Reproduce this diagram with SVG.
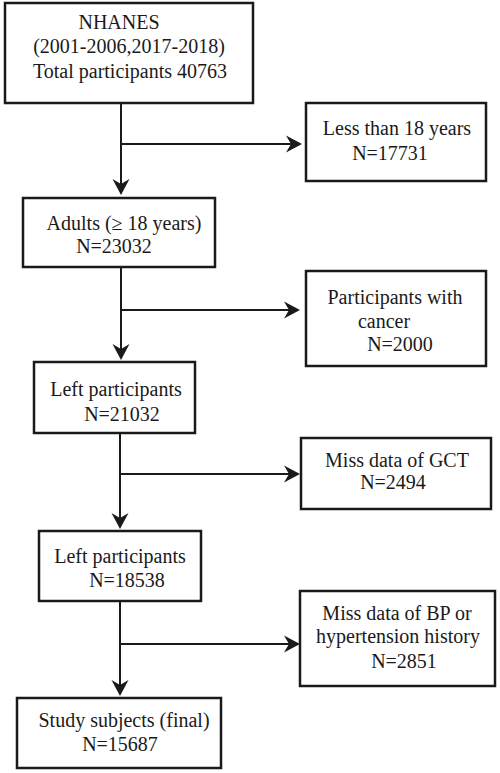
<svg xmlns="http://www.w3.org/2000/svg" width="500" height="773" viewBox="0 0 500 773">
<style>
.box{fill:#fff;stroke:#1a1a1a;stroke-width:2.5}
.t{font-family:'Liberation Serif','Times New Roman','DejaVu Serif',serif;font-size:20px;fill:#1a1a1a;text-anchor:middle}
.c{fill:none;stroke:#1a1a1a;stroke-width:2}
</style>
<defs>
<marker id="ah" markerUnits="userSpaceOnUse" viewBox="-12 -9 18 18" markerWidth="18" markerHeight="18" refX="0" refY="0" orient="auto">
<path d="M5,0 L-11,-8.5 L-6,0 L-11,8.5 Z" fill="#1a1a1a"/>
</marker>
</defs>
<rect width="500" height="773" fill="#fff"/>
<g id="connectors">
<path class="c" d="M121,103 V190" marker-end="url(#ah)"/>
<path class="c" d="M121,144 H297" marker-end="url(#ah)"/>
<path class="c" d="M121,267 V355" marker-end="url(#ah)"/>
<path class="c" d="M121,310 H295" marker-end="url(#ah)"/>
<path class="c" d="M120,433 V524" marker-end="url(#ah)"/>
<path class="c" d="M120,474 H295" marker-end="url(#ah)"/>
<path class="c" d="M120,601 V691" marker-end="url(#ah)"/>
<path class="c" d="M120,644 H295" marker-end="url(#ah)"/>
</g>
<g id="n1">
<rect class="box" x="5" y="3" width="248" height="100"/>
<text class="t" x="119" y="29">NHANES</text>
<text class="t" x="129" y="53">(2001-2006,2017-2018)</text>
<text class="t" x="130" y="78">Total participants 40763</text>
</g>
<g id="n2">
<rect class="box" x="306" y="103" width="180" height="78"/>
<text class="t" x="397" y="135">Less than 18 years</text>
<text class="t" x="390" y="160">N=17731</text>
</g>
<g id="n3">
<rect class="box" x="23" y="198" width="192" height="69"/>
<text class="t" x="124" y="230">Adults (≥ 18 years)</text>
<text class="t" x="114" y="253">N=23032</text>
</g>
<g id="n4">
<rect class="box" x="306" y="271" width="180" height="95"/>
<text class="t" x="395" y="304">Participants with</text>
<text class="t" x="384" y="328">cancer</text>
<text class="t" x="400" y="351">N=2000</text>
</g>
<g id="n5">
<rect class="box" x="34" y="362" width="161" height="71"/>
<text class="t" x="116" y="396">Left participants</text>
<text class="t" x="122" y="421">N=21032</text>
</g>
<g id="n6">
<rect class="box" x="301" y="438" width="190" height="71"/>
<text class="t" x="397" y="467">Miss data of GCT</text>
<text class="t" x="393" y="489">N=2494</text>
</g>
<g id="n7">
<rect class="box" x="39" y="531" width="162" height="70"/>
<text class="t" x="120" y="563">Left participants</text>
<text class="t" x="127" y="587">N=18538</text>
</g>
<g id="n8">
<rect class="box" x="300" y="591" width="195" height="95"/>
<text class="t" x="397" y="620">Miss data of BP or</text>
<text class="t" x="398" y="643">hypertension history</text>
<text class="t" x="404" y="668">N=2851</text>
</g>
<g id="n9">
<rect class="box" x="17" y="698" width="204" height="70"/>
<text class="t" x="124" y="727">Study subjects (final)</text>
<text class="t" x="120" y="751">N=15687</text>
</g>
</svg>
